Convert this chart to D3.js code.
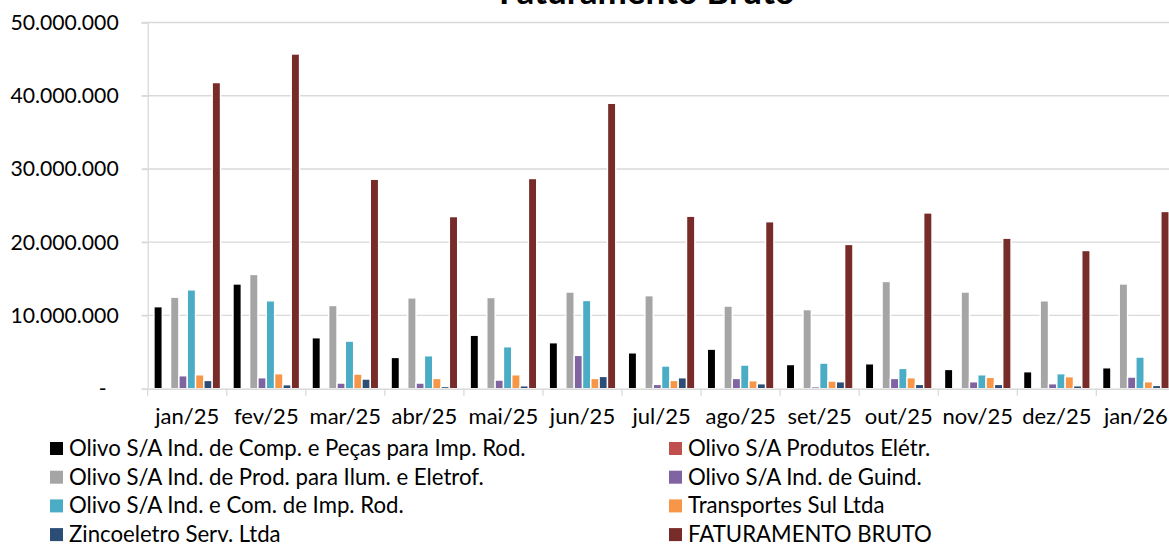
<!DOCTYPE html>
<html>
<head>
<meta charset="utf-8">
<script src="https://cdn.jsdelivr.net/npm/d3@7"></script>
<style>
  body { margin: 0; background: #fff; overflow: hidden; }
  svg { display: block; font-family: Lato, "Open Sans", sans-serif; }
</style>
</head>
<body>
<svg id="chart" width="1169" height="547"></svg>
<script>
const months = ['jan/25', 'fev/25', 'mar/25', 'abr/25', 'mai/25', 'jun/25', 'jul/25',
  'ago/25', 'set/25', 'out/25', 'nov/25', 'dez/25', 'jan/26']

const seriesNames = [
  'Olivo S/A Ind. de Comp. e Peças para Imp. Rod.',
  'Olivo S/A Produtos Elétr.',
  'Olivo S/A Ind. de Prod. para Ilum. e Eletrof.',
  'Olivo S/A Ind. de Guind.',
  'Olivo S/A Ind. e Com. de Imp. Rod.',
  'Transportes Sul Ltda',
  'Zincoeletro Serv. Ltda',
  'FATURAMENTO BRUTO'
]

const seriesColors = ['#000000', '#c0504d', '#a5a5a5', '#8064a2', '#4bacc6', '#f79646', '#2c4d75', '#772c2a']

// values in millions
const compPecas = [11.2, 14.3, 6.96, 4.27, 7.3, 6.28, 4.9, 5.4, 3.3, 3.4, 2.63, 2.32, 2.86]
const prodEletr = [0, 0, 0, 0, 0, 0, 0, 0, 0, 0, 0, 0, 0]
const ilumEletrof = [12.5, 15.6, 11.36, 12.4, 12.45, 13.2, 12.7, 11.28, 10.8, 14.64, 13.2, 12.0, 14.3]
const guind = [1.77, 1.5, 0.77, 0.77, 1.18, 4.55, 0.59, 1.4, 0.27, 1.4, 0.95, 0.68, 1.59]
const comImpRod = [13.5, 12.0, 6.5, 4.5, 5.73, 12.05, 3.1, 3.23, 3.5, 2.77, 1.9, 2.05, 4.32]
const transportes = [1.9, 2.05, 2.0, 1.4, 1.9, 1.4, 1.13, 1.09, 1.04, 1.5, 1.55, 1.64, 0.95]
const zincoeletro = [1.13, 0.55, 1.32, 0.3, 0.4, 1.68, 1.5, 0.68, 0.95, 0.59, 0.59, 0.4, 0.45]
const faturamento = [41.8, 45.7, 28.6, 23.5, 28.7, 38.97, 23.55, 22.8, 19.7, 24.0, 20.55, 18.87, 24.2]

const yTicks = [0, 10e6, 20e6, 30e6, 40e6, 50e6]

const seriesValues = [compPecas, prodEletr, ilumEletrof, guind, comImpRod, transportes, zincoeletro, faturamento]

const svg = d3.select('#chart')
const gridColor = '#d9d9d9'

const x0 = d3.scaleBand().domain(months).range([147.7, 1175.4]).padding(0)
const x1 = d3.scaleBand().domain(d3.range(seriesNames.length))
  .range([0, x0.bandwidth()]).paddingInner(0).paddingOuter(0.75)
const y = d3.scaleLinear().domain([0, 50e6]).range([388.7, 22.5])

const fmt = (v) => v === 0 ? '-' : d3.format(',')(v).replace(/,/g, '.')

// gridlines
svg.append('g')
  .selectAll('line')
  .data(yTicks.slice(1))
  .enter().append('line')
  .attr('x1', x0.range()[0] - 6).attr('x2', 1169)
  .attr('y1', (d) => y(d)).attr('y2', (d) => y(d))
  .attr('stroke', gridColor).attr('stroke-width', 1.3)

// y axis
const yAxis = svg.append('g')
  .attr('transform', `translate(${x0.range()[0]},0)`)
  .call(d3.axisLeft(y).tickValues(yTicks).tickSize(6).tickPadding(23).tickFormat(fmt))
yAxis.select('.domain').attr('stroke', gridColor).attr('stroke-width', 1.3)
yAxis.selectAll('.tick line').attr('stroke', gridColor).attr('stroke-width', 1.3)
yAxis.selectAll('.tick text')
  .attr('font-size', '21.2px').attr('fill', '#000').style('font-family', 'Lato')
yAxis.selectAll('.tick').filter((d) => d === 0).select('text').attr('dx', -12)

// bars
const groups = svg.append('g')
  .selectAll('g')
  .data(months)
  .enter().append('g')
  .attr('transform', (d) => `translate(${x0(d)},0)`)

groups.selectAll('rect')
  .data((m, i) => seriesValues.map((vals, s) => ({ s: s, v: vals[i] * 1e6 })))
  .enter().append('rect')
  .filter((d) => d.v > 0)
  .attr('x', (d) => x1(d.s))
  .attr('width', x1.bandwidth())
  .attr('y', (d) => y(d.v))
  .attr('height', (d) => y(0) - y(d.v))
  .attr('fill', (d) => seriesColors[d.s])
  .attr('stroke', '#fff')
  .attr('stroke-width', 1.4)

// x axis
const xAxis = svg.append('g')
  .attr('transform', `translate(0,${y(0)})`)
  .call(d3.axisBottom(x0).tickSize(0).tickPadding(20))
xAxis.select('.domain').attr('stroke', gridColor).attr('stroke-width', 1.6)
xAxis.selectAll('.tick text')
  .attr('font-size', '22px').attr('fill', '#000').style('font-family', 'Lato')

// category boundary ticks
svg.append('g')
  .selectAll('line')
  .data(months.concat(['end']))
  .enter().append('line')
  .attr('x1', (d, i) => x0.range()[0] + i * x0.step())
  .attr('x2', (d, i) => x0.range()[0] + i * x0.step())
  .attr('y1', y(0)).attr('y2', y(0) + 7)
  .attr('stroke', gridColor).attr('stroke-width', 1.3)

// title
svg.append('text')
  .attr('x', 647).attr('y', 4)
  .attr('text-anchor', 'middle')
  .attr('font-size', '35px').attr('font-weight', 'bold')
  .text('Faturamento Bruto')

// legend
const legend = svg.append('g')
  .selectAll('g')
  .data(seriesNames)
  .enter().append('g')
  .attr('transform', (d, i) => `translate(${i % 2 === 0 ? 50 : 669},${448.5 + Math.floor(i / 2) * 28.7})`)

legend.append('rect')
  .attr('x', 0).attr('y', -6.5)
  .attr('width', 13).attr('height', 13)
  .attr('fill', (d, i) => seriesColors[i])

legend.append('text')
  .attr('x', 19).attr('y', 7.5)
  .attr('font-size', '22.2px')
  .text((d) => d)
</script>
</body>
</html>
